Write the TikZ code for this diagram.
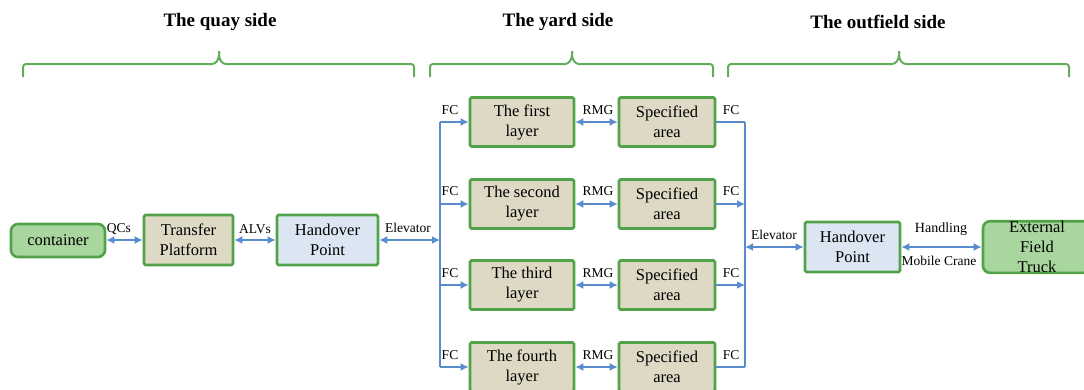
\documentclass[tikz,border=0pt]{standalone}
\usepackage{fontspec}
\setmainfont{Liberation Serif}
\usetikzlibrary{arrows.meta}

\definecolor{boxgreen}{RGB}{82,162,74}
\definecolor{bracegreen}{RGB}{98,172,92}
\definecolor{tanfill}{RGB}{221,217,196}
\definecolor{bluefill}{RGB}{220,230,242}
\definecolor{greenfill}{RGB}{168,214,158}
\definecolor{linkblue}{RGB}{88,140,206}

\tikzset{
  base/.style={draw=boxgreen, line width=2.6pt, inner sep=0pt, align=center,
    font=\fontsize{16.5}{20}\selectfont},
  tanbox/.style={base, fill=tanfill, rounded corners=1.5pt},
  bluebox/.style={base, fill=bluefill, rounded corners=1.5pt},
  endbox/.style={base, fill=greenfill, rounded corners=7pt},
  tip/.tip={Latex[length=8pt,width=8pt]},
  link/.style={draw=linkblue, line width=1.7pt},
  both/.style={link, tip-tip},
  to/.style={link, -tip},
  lbl/.style={font=\fontsize{13.5}{15}\selectfont, inner sep=0pt},
  title/.style={font=\fontsize{19}{22}\selectfont\bfseries, inner sep=0pt},
  brace/.style={draw=bracegreen, line width=2pt, rounded corners=3pt}
}

\begin{document}
\begin{tikzpicture}[x=1pt,y=-1pt]
\clip (0,0) rectangle (1084,389);
\useasboundingbox (0,0) rectangle (1084,389);

% section titles and braces
\node[title] (tq) at (220,22) {The quay side};
\node[title] (ty) at (558,22) {The yard side};
\node[title] (to) at (878,22) {The outfield side};

\draw[brace] (23,77) -- (23,64) -- (215,64) -- (219,58) -- (219,51);
\draw[brace] (219,51) -- (219,58) -- (223,64) -- (414,64) -- (414,77);
\draw[brace] (430,77) -- (430,64) -- (568,64) -- (572,58) -- (572,51);
\draw[brace] (572,51) -- (572,58) -- (576,64) -- (713,64) -- (713,77);
\draw[brace] (728,77) -- (728,64) -- (895,64) -- (899,58) -- (899,51);
\draw[brace] (899,51) -- (899,58) -- (903,64) -- (1069,64) -- (1069,77);

% quay side
\node[endbox, minimum width=94pt, minimum height=33pt] (cont) at (58,240.5) {container};
\node[tanbox, minimum width=89pt, minimum height=50pt] (tp) at (188.5,240) {Transfer\\Platform};
\node[bluebox, minimum width=101pt, minimum height=50pt] (hp1) at (327.5,240) {Handover\\Point};

% yard side layers
\foreach \i/\y/\t in {1/122/first, 2/204/second, 3/285/third, 4/367/fourth}{
  \node[tanbox, minimum width=104pt, minimum height=49pt] (L\i) at (522,\y) {The \t\\layer};
  \node[tanbox, minimum width=96pt, minimum height=49pt] (S\i) at (667,\y) {Specified\\area};
}

% outfield side
\node[bluebox, minimum width=95pt, minimum height=50pt] (hp2) at (852.5,247) {Handover\\Point};
\node[endbox, minimum width=108pt, minimum height=50pt] (ext) at (1037,247) {External\\Field\\Truck};

% collecting lines of the yard
\coordinate (lt) at (440,122);
\coordinate (lb) at (440,367);
\coordinate (rt) at (745,122);
\coordinate (rb) at (745,367);
\coordinate (lm) at (440,240);
\coordinate (rm) at (745,247);

% connectors
\draw[both] (cont.east |- 0,240) -- (tp.west |- 0,240);
\draw[both] (tp) -- (hp1);
\draw[both] (hp1.east) -- (lm);
\draw[link] (lt) -- (lb);
\draw[link] (rt) -- (rb);
\foreach \i in {1,2,3,4}{
  \draw[to] (lt |- L\i.west) -- (L\i.west);
  \draw[both] (L\i) -- (S\i);
}
\draw[link] (S1.east) -- (rt);
\draw[link] (S4.east) -- (rb);
\draw[to] (S2.east) -- (rt |- S2.east);
\draw[to] (S3.east) -- (rt |- S3.east);
\draw[both] (rm) -- (hp2.west);
\draw[both] (hp2.east) -- (ext.west);

% connector labels
\node[lbl] (q) at (119,229) {QCs};
\node[lbl] (a) at (255,229) {ALVs};
\node[lbl] (e1) at (408,228) {Elevator};
\node[lbl] (e2) at (774,235) {Elevator};
\node[lbl, font=\fontsize{14}{15}\selectfont] (hd) at (941,229) {Handling};
\node[lbl] (mc) at (939,261) {Mobile Crane};
\foreach \i/\y in {1/110,2/191,3/273,4/355}{
  \node[lbl] (fl\i) at (450,\y) {FC};
  \node[lbl] (r\i) at (598,\y) {RMG};
  \node[lbl] (fr\i) at (731,\y) {FC};
}
\end{tikzpicture}
\end{document}
